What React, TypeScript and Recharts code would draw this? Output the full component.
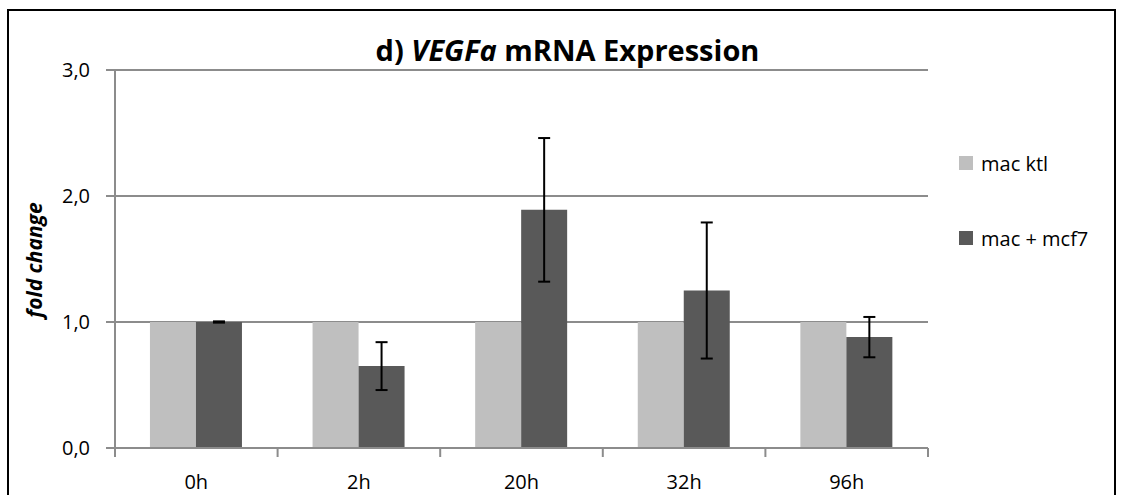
import { BarChart, Bar, XAxis, YAxis, CartesianGrid, ErrorBar, Label } from "recharts";

const timepoints = ["0h", "2h", "20h", "32h", "96h"];
const macKtl = [1.0, 1.0, 1.0, 1.0, 1.0];
const macMcf7 = [1.0, 0.65, 1.89, 1.25, 0.88];
const macMcf7Err = [0.005, 0.19, 0.57, 0.54, 0.16];
const yTicks = [0, 1, 2, 3];

const seriesNames = { ktl: "mac ktl", mcf7: "mac + mcf7" };
const colors = { ktl: "#bfbfbf", mcf7: "#595959" };

const data = timepoints.map((t, i) => ({
  time: t,
  ktl: macKtl[i],
  mcf7: macMcf7[i],
  err: macMcf7Err[i],
}));

const FONT = "'Open Sans', Lato, sans-serif";
const GRID = "#8c8c8c";

// Excel style: tick marks sit on the category boundaries, labels in the middle
function CategoryTick(props: any) {
  const { x, y, payload, width, visibleTicksCount, index } = props;
  const band = width / visibleTicksCount;
  const left = x - band / 2;
  const right = x + band / 2;
  return (
    <g>
      <line x1={left} y1={y} x2={left} y2={y + 9} stroke={GRID} strokeWidth={2} />
      {index === visibleTicksCount - 1 && (
        <line x1={right} y1={y} x2={right} y2={y + 9} stroke={GRID} strokeWidth={2} />
      )}
      <text x={x} y={y + 27} dy="0.71em" textAnchor="middle" fontFamily={FONT} fontSize={20} fill="#000">
        {payload.value}
      </text>
    </g>
  );
}

function LegendBox() {
  const items = [
    { name: seriesNames.ktl, color: colors.ktl },
    { name: seriesNames.mcf7, color: colors.mcf7 },
  ];
  return (
    <div style={{ position: "absolute", left: 959, top: 149, fontFamily: FONT, fontSize: 20, color: "#000" }}>
      {items.map((it) => (
        <div key={it.name} style={{ display: "flex", alignItems: "center", height: 28, marginBottom: 47 }}>
          <span style={{ width: 14, height: 14, background: it.color, display: "inline-block", marginRight: 8 }} />
          <span>{it.name}</span>
        </div>
      ))}
    </div>
  );
}

export default function App() {
  return (
    <div style={{ position: "absolute", left: 0, top: 0, width: 1123, height: 495, overflow: "hidden", background: "#fff" }}>
      <div
        style={{
          position: "absolute",
          left: 7,
          top: 9,
          width: 1105,
          height: 600,
          borderTop: "2px solid #000",
          borderLeft: "2px solid #000",
          borderRight: "2px solid #000",
        }}
      />
      <div
        style={{
          position: "absolute",
          left: 0,
          width: 1135,
          top: 30,
          textAlign: "center",
          fontFamily: FONT,
          fontWeight: 700,
          fontSize: 29,
          color: "#000",
          zIndex: 2,
        }}
      >
        d) <i>VEGFa</i> mRNA Expression
      </div>
      <BarChart
        width={1123}
        height={495}
        data={data}
        margin={{ top: 70, right: 195, left: 0, bottom: 0 }}
        barCategoryGap="21.5%"
        barGap={0}
        style={{ position: "absolute", left: 0, top: 0 }}
      >
        <CartesianGrid stroke={GRID} strokeWidth={2} vertical={false} />
        <XAxis
          dataKey="time"
          tickLine={false}
          tickSize={0}
          tickMargin={0}
          axisLine={{ stroke: GRID, strokeWidth: 2 }}
          tick={<CategoryTick />}
          interval={0}
          height={47}
        />
        <YAxis
          domain={[0, 3]}
          ticks={yTicks}
          width={115}
          tickSize={9}
          tickMargin={16}
          tickLine={{ stroke: GRID, strokeWidth: 2 }}
          axisLine={{ stroke: GRID, strokeWidth: 2 }}
          tickFormatter={(v: number) => v.toFixed(1).replace(".", ",")}
          tick={{ fontFamily: FONT, fontSize: 20, fill: "#000" }}
        >
          <Label
            content={() => (
              <text
                x={42}
                y={260}
                transform="rotate(-90 42 260)"
                textAnchor="middle"
                fontFamily={FONT}
                fontSize={21}
                fontWeight={700}
                fontStyle="italic"
                fill="#000"
              >
                fold change
              </text>
            )}
          />
        </YAxis>
        <Bar dataKey="ktl" name={seriesNames.ktl} fill={colors.ktl} isAnimationActive={false} />
        <Bar dataKey="mcf7" name={seriesNames.mcf7} fill={colors.mcf7} isAnimationActive={false}>
          <ErrorBar dataKey="err" width={6} stroke="#000" strokeWidth={2} />
        </Bar>
      </BarChart>
      <LegendBox />
    </div>
  );
}
